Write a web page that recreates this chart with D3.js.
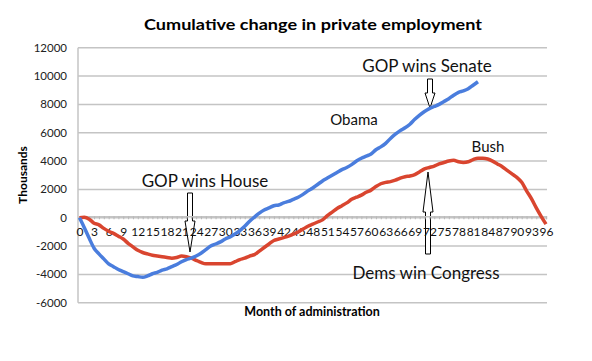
<!DOCTYPE html>
<html>
<head>
<meta charset="utf-8">
<script src="https://cdn.jsdelivr.net/npm/d3@7"></script>
<style>
  body { margin: 0; background: #fff; }
  text { font-family: Lato, "Open Sans", sans-serif; }
</style>
</head>
<body>
<div id="chart"></div>
<script>
// cumulative change in private employment, thousands, by month of administration
const obama = [0, -700, -1450, -2150, -2550, -2900, -3250, -3450, -3650, -3800,
  -3950, -4100, -4150, -4200, -4100, -3950, -3850, -3700, -3600, -3450,
  -3300, -3100, -2950, -2850, -2700, -2500, -2250, -2000, -1850, -1700,
  -1500, -1350, -1150, -900, -600, -250, 50, 330, 550, 700,
  850, 900, 1050, 1150, 1300, 1450, 1650, 1900, 2100, 2350,
  2600, 2800, 3000, 3200, 3400, 3550, 3750, 4000, 4200, 4350,
  4500, 4800, 5000, 5250, 5600, 5900, 6150, 6350, 6600, 6950,
  7250, 7500, 7700, 7850, 8000, 8200, 8400, 8650, 8850, 8950,
  9100, 9350, 9600];
const bush = [0, 30, -100, -380, -500, -750, -950, -1100, -1300, -1500,
  -1800, -2050, -2300, -2450, -2550, -2650, -2700, -2750, -2800, -2850,
  -2800, -2700, -2750, -2850, -3000, -3150, -3250, -3250, -3250, -3250,
  -3250, -3250, -3100, -2950, -2850, -2700, -2600, -2350, -2100, -1850,
  -1600, -1500, -1400, -1300, -1150, -1000, -800, -600, -450, -300,
  -150, 150, 400, 650, 850, 1050, 1300, 1450, 1600, 1800,
  1950, 2200, 2400, 2500, 2550, 2650, 2800, 2900, 2950, 3050,
  3250, 3450, 3550, 3650, 3800, 3900, 4000, 4050, 3950, 3900,
  3950, 4100, 4200, 4200, 4150, 4000, 3800, 3600, 3350, 3100,
  2850, 2500, 1900, 1350, 700, 100, -450];
const yTicks = [-6000, -4000, -2000, 0, 2000, 4000, 6000, 8000, 10000, 12000];
const months = d3.range(0, 97);

const width = 592, height = 361;
const svg = d3.select("#chart").append("svg")
    .attr("width", width)
    .attr("height", height);

const x = d3.scaleLinear().domain([0, 96]).range([79.5, 546]);
const y = d3.scaleLinear().domain([-6000, 12000]).range([302.8, 47.7]);

// gridlines
svg.append("g")
    .selectAll("line")
    .data(yTicks)
    .join("line")
    .attr("x1", 78).attr("x2", 547)
    .attr("y1", d => y(d)).attr("y2", d => y(d))
    .attr("stroke", "#c4c4c4")
    .attr("stroke-width", 1.5);

// y axis line
svg.append("line")
    .attr("x1", 78).attr("x2", 78)
    .attr("y1", y(12000)).attr("y2", y(-6000))
    .attr("stroke", "#c4c4c4")
    .attr("stroke-width", 1.5);

// y labels
svg.append("g")
    .selectAll("text")
    .data(yTicks)
    .join("text")
    .attr("x", 67)
    .attr("y", d => y(d) + 4)
    .attr("text-anchor", "end")
    .style("font-size", "11.5px")
    .style("fill", "#222")
    .text(d => d);

// hollow block arrows: cx, tail y, head base y, tip y
function arrow(cx, tail, base, tip) {
    const s = 2.5, h = 5;
    const p = d3.path();
    p.moveTo(cx - s, tail);
    p.lineTo(cx + s, tail);
    p.lineTo(cx + s, base);
    p.lineTo(cx + h, base);
    p.lineTo(cx, tip);
    p.lineTo(cx - h, base);
    p.lineTo(cx - s, base);
    p.closePath();
    svg.append("path")
        .attr("d", p.toString())
        .attr("fill", "#fff")
        .attr("stroke", "#000")
        .attr("stroke-width", 1);
}
arrow(190, 193, 221, 252);
arrow(430, 79, 93, 108);
arrow(428, 254, 212, 172);

// x axis on zero line
const xAxis = svg.append("g")
    .attr("transform", `translate(0,${y(0) - 1.5})`)
    .call(d3.axisBottom(x)
        .tickValues(months)
        .tickSize(3)
        .tickPadding(8)
        .tickFormat(d => d % 3 === 0 ? d : ""));
xAxis.select(".domain").attr("stroke", "#c4c4c4").attr("stroke-width", 1.5);
xAxis.selectAll(".tick line").attr("stroke", "#b8b8b8");
xAxis.selectAll(".tick text")
    .style("font-size", "12px")
    .style("font-family", "Lato, sans-serif")
    .attr("fill", "#111");

// lines
const line = d3.line()
    .x((d, i) => x(i))
    .y(d => y(d))
    .curve(d3.curveMonotoneX);

svg.append("path")
    .datum(bush)
    .attr("d", line)
    .attr("fill", "none")
    .attr("stroke", "#d9452f")
    .attr("stroke-width", 3.5)
    .attr("stroke-linejoin", "round");

svg.append("path")
    .datum(obama)
    .attr("d", line)
    .attr("fill", "none")
    .attr("stroke", "#4a7ddd")
    .attr("stroke-width", 3.5)
    .attr("stroke-linejoin", "round");

// titles
svg.append("text")
    .attr("x", 313).attr("y", 30)
    .attr("text-anchor", "middle")
    .attr("textLength", 338)
    .attr("lengthAdjust", "spacingAndGlyphs")
    .style("font-size", "16px")
    .style("font-weight", "bold")
    .text("Cumulative change in private employment");

svg.append("text")
    .attr("transform", "translate(27,175) rotate(-90)")
    .attr("text-anchor", "middle")
    .style("font-size", "12px")
    .style("font-weight", "bold")
    .text("Thousands");

svg.append("text")
    .attr("x", 312).attr("y", 316)
    .attr("text-anchor", "middle")
    .style("font-size", "12.5px")
    .style("font-weight", "bold")
    .text("Month of administration");

// annotations
function note(txt, cx, by, size) {
    svg.append("text")
        .attr("x", cx).attr("y", by)
        .attr("text-anchor", "middle")
        .style("font-size", size + "px")
        .style("fill", "#111")
        .text(txt);
}
note("GOP wins House", 205, 187, 17);
note("GOP wins Senate", 427, 72, 17);
note("Dems win Congress", 426, 279, 17);
note("Obama", 354, 125, 15);
note("Bush", 488, 152, 15);
</script>
</body>
</html>
